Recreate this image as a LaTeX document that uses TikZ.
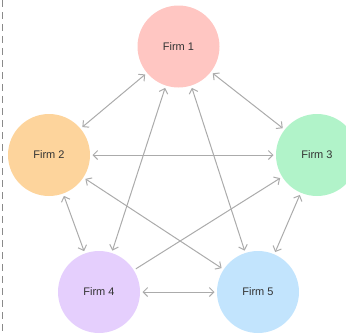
\documentclass[tikz,border=0pt]{standalone}
\usepackage{fontspec}
\setmainfont{Liberation Sans}
\usetikzlibrary{arrows.meta}
\definecolor{c1}{HTML}{FFC6C2}
\definecolor{c2}{HTML}{FDD49C}
\definecolor{c3}{HTML}{B1F3C9}
\definecolor{c4}{HTML}{E5CFFD}
\definecolor{c5}{HTML}{C2E4FD}
\definecolor{linegray}{HTML}{ABABAB}
\definecolor{dashgray}{HTML}{8A8A8A}
\definecolor{txt}{HTML}{333333}
\begin{document}
\begin{tikzpicture}[x=1pt,y=-1pt,
  firm/.style={circle,minimum size=82pt,inner sep=0pt,outer sep=2.5pt,text=txt,font=\fontsize{11}{13}\selectfont},
  link/.style={draw=linegray,line width=1pt,{Straight Barb[length=4.5pt,width=9pt]}-{Straight Barb[length=4.5pt,width=9pt]}},
  onelink/.style={draw=linegray,line width=1pt,-{Straight Barb[length=4.5pt,width=9pt]}}]
\useasboundingbox (0,0) rectangle (346,333);
\begin{scope}
\clip (0,0) rectangle (346,333);
\node[firm,fill=c1] (f1) at (178.5,46.5) {Firm 1};
\node[firm,fill=c2] (f2) at (49,155) {Firm 2};
\node[firm,fill=c3] (f3) at (317,155) {Firm 3};
\node[firm,fill=c4] (f4) at (99,292) {Firm 4};
\node[firm,fill=c5] (f5) at (258,292) {Firm 5};
\end{scope}
\coordinate (dtop) at (2.5,0);
\coordinate (dbot) at (2.5,333);
\draw[dashgray,line width=1pt,dash pattern=on 7pt off 5pt] (dtop) -- (dbot);
\draw[link] (f1) -- (f2);
\draw[link] (f1) -- (f3);
\draw[link] (f1) -- (f4);
\draw[link] (f1) -- (f5);
\draw[link] (f2) -- (f3);
\draw[link] (f2) -- (f4);
\draw[link] (f2) -- (f5);
\draw[onelink] (f4) -- (f3);
\draw[link] (f3) -- (f5);
\draw[link] (f4) -- (f5);
\end{tikzpicture}
\end{document}
